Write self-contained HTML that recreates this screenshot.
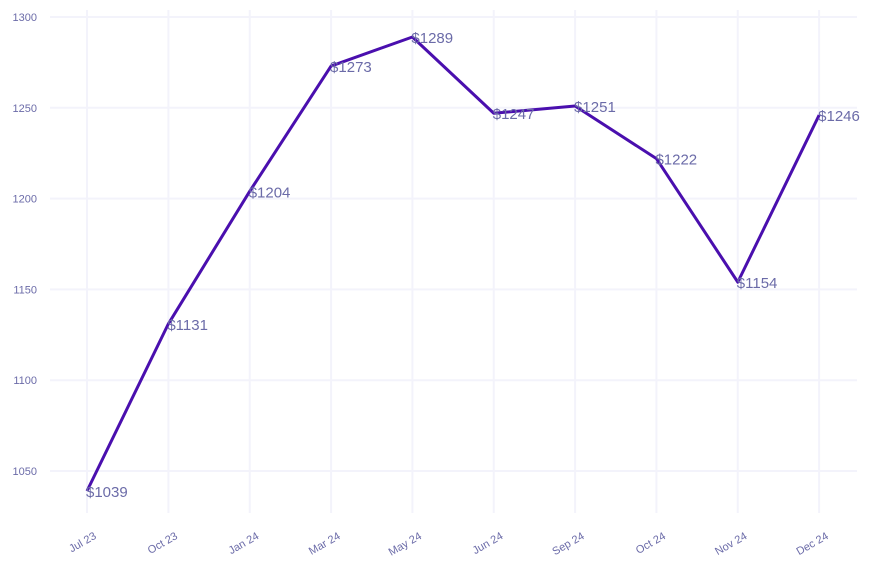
<!DOCTYPE html>
<html><head><meta charset="utf-8"><style>
body{margin:0;background:#fff;}
svg{display:block;font-family:"Liberation Sans",sans-serif;}
</style></head><body>
<svg id="chart" width="873" height="566" viewBox="0 0 873 566"></svg>
<script>
const categories=["Jul 23","Oct 23","Jan 24","Mar 24","May 24","Jun 24","Sep 24","Oct 24","Nov 24","Dec 24"];
const values=[1039,1131,1204,1273,1289,1247,1251,1222,1154,1246];
const yTicks=[1050,1100,1150,1200,1250,1300];
const svg=document.getElementById('chart');
const NS='http://www.w3.org/2000/svg';
function x(i){return 87+i*81.35;}
function y(v){return 471-(v-1050)*1.816;}
function mk(tag,attrs,parent){const e=document.createElementNS(NS,tag);for(const k in attrs)e.setAttribute(k,attrs[k]);(parent||svg).appendChild(e);return e;}
const grid=mk('g',{});


yTicks.forEach(t=>{
  const l=mk('line',{x1:50,x2:857,y1:y(t),y2:y(t),stroke:'#f3f3fb','stroke-width':2},grid);
  
  
  const tx=mk('text',{x:37,y:y(t)+4,'text-anchor':'end','font-size':11,fill:'#6b6ba8'});
  
  
  tx.textContent=t;
});
categories.forEach((c,i)=>{
  const l=mk('line',{x1:x(i),x2:x(i),y1:10,y2:513,stroke:'#f3f3fb','stroke-width':2},grid);
  
  
  const tx=mk('text',{x:x(i)+10,y:538,'text-anchor':'end','font-size':11,fill:'#6b6ba8',transform:`rotate(-30 ${x(i)+10} 538)`});
  
  
  tx.textContent=c;
});
const pts=values.map((v,i)=>x(i)+','+y(v)).join(' ');
const line=mk('polyline',{points:pts,fill:'none',stroke:'#4a0fae','stroke-width':3,'stroke-linejoin':'round'});


values.forEach((v,i)=>{
  const tx=mk('text',{x:x(i)-1,y:y(v)+6,'font-size':15,fill:'#6b6ba8'});
  
  
  tx.textContent='$'+v;
});
</script>
</body></html>
